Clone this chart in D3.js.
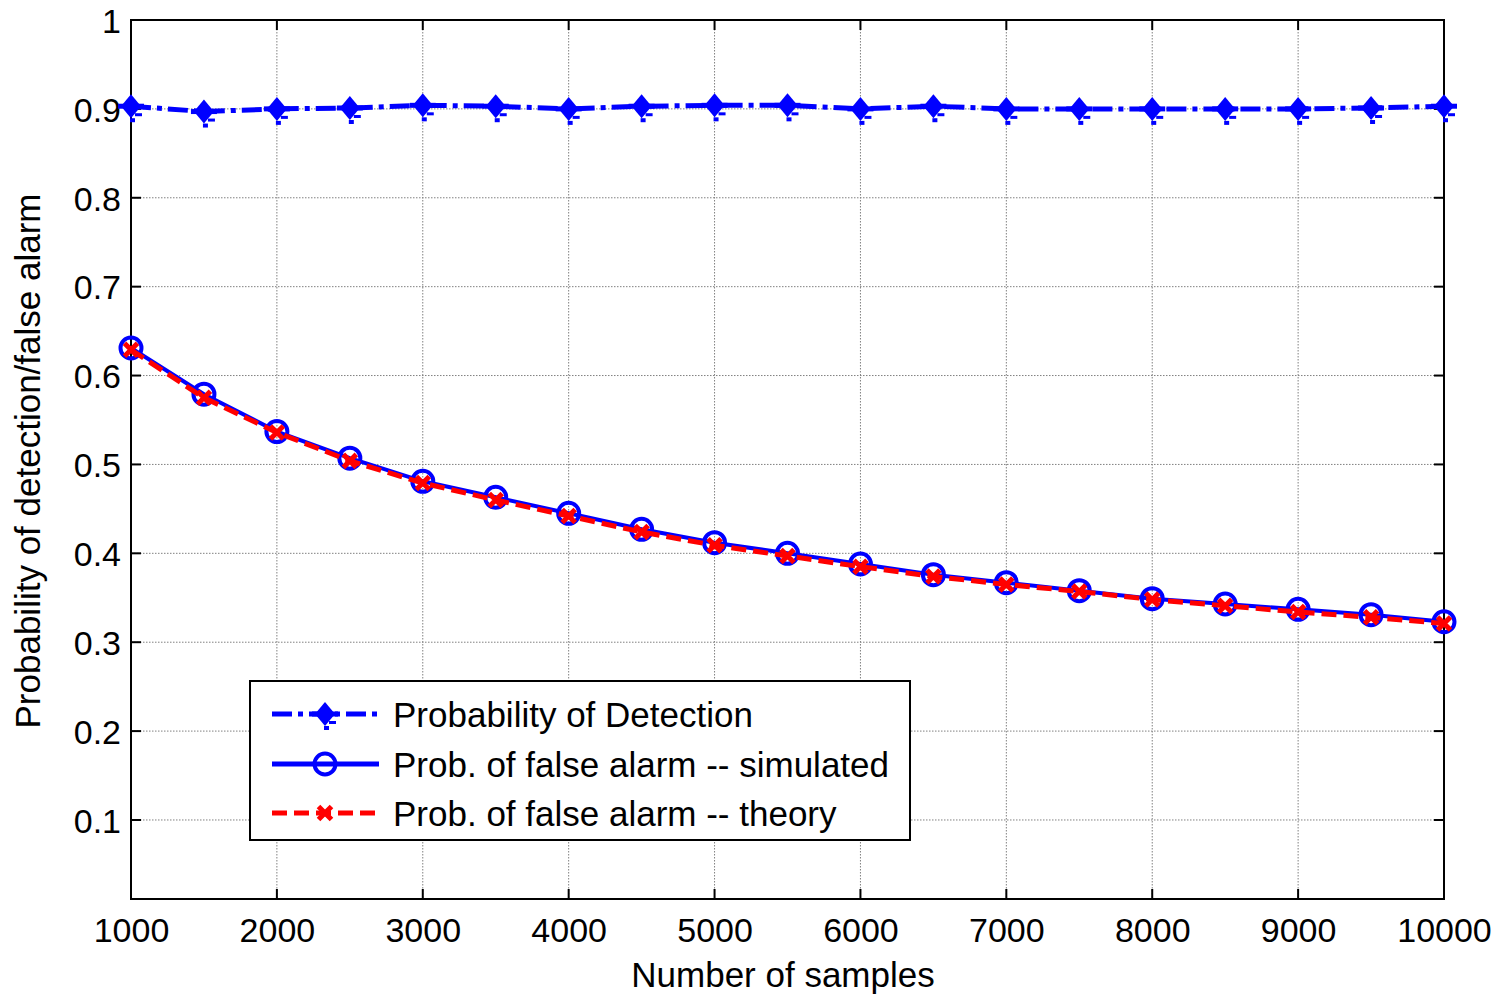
<!DOCTYPE html>
<html>
<head>
<meta charset="utf-8">
<script src="https://cdn.jsdelivr.net/npm/d3@7"></script>
<style>
  html, body { margin: 0; padding: 0; background: #fff; }
  svg { display: block; }
  text { font-family: Arial, "Liberation Sans", sans-serif; fill: #000; }
</style>
</head>
<body>
<script>
// ---------------- data ----------------
const samples = [1000,1500,2000,2500,3000,3500,4000,4500,5000,5500,6000,6500,7000,7500,8000,8500,9000,9500,10000];
const probDetection = [0.903,0.897,0.900,0.901,0.904,0.903,0.900,0.903,0.904,0.904,0.900,0.903,0.900,0.900,0.900,0.900,0.900,0.901,0.903];
const pfaSimulated = [0.631,0.579,0.537,0.507,0.481,0.463,0.445,0.427,0.412,0.400,0.388,0.376,0.367,0.358,0.349,0.343,0.337,0.331,0.323];
const pfaTheory    = [0.629,0.575,0.536,0.504,0.479,0.460,0.442,0.424,0.409,0.397,0.385,0.374,0.365,0.357,0.348,0.341,0.334,0.328,0.321];
const xTicks = [1000,2000,3000,4000,5000,6000,7000,8000,9000,10000];
const yTicks = [0.1,0.2,0.3,0.4,0.5,0.6,0.7,0.8,0.9,1];
const yTickLabels = ["0.1","0.2","0.3","0.4","0.5","0.6","0.7","0.8","0.9","1"];
const legendLabels = ["Probability of Detection","Prob. of false alarm -- simulated","Prob. of false alarm -- theory"];
const xLabel = "Number of samples";
const yLabel = "Probability of detection/false alarm";

// ---------------- layout ----------------
const W = 1499, H = 1002;
const L = 131, R = 1444, T = 20, B = 899;
const svg = d3.select("body").append("svg").attr("width", W).attr("height", H);

const x = d3.scaleLinear().domain([1000, 10000]).range([L, R]);
const y = d3.scaleLinear().domain([0.0111, 1]).range([B, T]);

// grid
const grid = svg.append("g");
grid.selectAll("line.gx").data(xTicks.slice(1, -1)).join("line")
  .attr("x1", d => x(d)).attr("x2", d => x(d)).attr("y1", T).attr("y2", B)
  .attr("stroke", "#808080").attr("stroke-width", 1).attr("stroke-dasharray", "1.5,1.5");
grid.selectAll("line.gy").data(yTicks.slice(0, -1)).join("line")
  .attr("x1", L).attr("x2", R).attr("y1", d => y(d)).attr("y2", d => y(d))
  .attr("stroke", "#808080").attr("stroke-width", 1).attr("stroke-dasharray", "1.5,1.5");

// axes (ticks inward)
const tickLen = 10;
const axB = d3.axisBottom(x).tickValues(xTicks).tickSize(0).tickPadding(20).tickFormat(d3.format("d"));
const axL = d3.axisLeft(y).tickValues(yTicks).tickSize(0).tickPadding(10).tickFormat((d, i) => yTickLabels[i]);
const gB = svg.append("g").attr("transform", `translate(0,${B})`).call(axB);
const gL = svg.append("g").attr("transform", `translate(${L},0)`).call(axL);
[gB, gL].forEach(g => { g.select(".domain").remove(); g.selectAll("text").attr("font-size", 34).attr("font-family", "Arial, 'Liberation Sans', sans-serif"); });
gB.selectAll("text").attr("dy", "0.68em");
gL.selectAll("text").attr("dy", "0.36em");

const ticks = svg.append("g").attr("stroke", "#000").attr("stroke-width", 2);
xTicks.forEach(v => {
  ticks.append("line").attr("x1", x(v)).attr("x2", x(v)).attr("y1", B).attr("y2", B - tickLen);
  ticks.append("line").attr("x1", x(v)).attr("x2", x(v)).attr("y1", T).attr("y2", T + tickLen);
});
yTicks.forEach(v => {
  ticks.append("line").attr("x1", L).attr("x2", L + tickLen).attr("y1", y(v)).attr("y2", y(v));
  ticks.append("line").attr("x1", R).attr("x2", R - tickLen).attr("y1", y(v)).attr("y2", y(v));
});

// frame
svg.append("rect").attr("x", L).attr("y", T).attr("width", R - L).attr("height", B - T)
  .attr("fill", "none").attr("stroke", "#000").attr("stroke-width", 2);

// axis labels
svg.append("text").attr("x", 783).attr("y", 987).attr("text-anchor", "middle")
  .attr("font-size", 35).text(xLabel);
svg.append("text").attr("transform", `translate(40,${461}) rotate(-90)`).attr("text-anchor", "middle")
  .attr("font-size", 35).text(yLabel);

// ---------------- series ----------------
const BLUE = "#0000ff", RED = "#ff0000";
const line = d3.line().x(d => x(d[0])).y(d => y(d[1]));
const pd = samples.map((s, i) => [s, probDetection[i]]);
const ps = samples.map((s, i) => [s, pfaSimulated[i]]);
const pt = samples.map((s, i) => [s, pfaTheory[i]]);

function pdMarker(g, cx, cy) {
  g.append("path").attr("d", `M${cx},${cy-12} L${cx+10},${cy} L${cx},${cy+12} L${cx-10},${cy} Z`).attr("fill", BLUE);
  g.append("rect").attr("x", cx - 13).attr("y", cy - 2.5).attr("width", 26).attr("height", 5).attr("fill", BLUE);
  g.append("rect").attr("x", cx + 4).attr("y", cy + 7).attr("width", 7).attr("height", 3).attr("fill", BLUE);
  g.append("rect").attr("x", cx - 1).attr("y", cy + 12).attr("width", 5).attr("height", 4).attr("fill", BLUE);
}
function circMarker(g, cx, cy) {
  g.append("circle").attr("cx", cx).attr("cy", cy).attr("r", 10.5).attr("fill", "none").attr("stroke", BLUE).attr("stroke-width", 4);
}
function xMarker(g, cx, cy) {
  const s = 6.5;
  g.append("path").attr("d", `M${cx-s},${cy-s}L${cx+s},${cy+s}M${cx-s},${cy+s}L${cx+s},${cy-s}`)
    .attr("stroke", RED).attr("stroke-width", 5).attr("fill", "none");
}

const plot = svg.append("g");
plot.append("path").datum(pd).attr("d", line).attr("fill", "none").attr("stroke", BLUE)
  .attr("stroke-width", 5).attr("stroke-dasharray", "20,6,5,6");
const gm1 = plot.append("g");
pd.forEach(d => pdMarker(gm1, x(d[0]), y(d[1])));

plot.append("path").datum(ps).attr("d", line).attr("fill", "none").attr("stroke", BLUE).attr("stroke-width", 4);
const gm2 = plot.append("g");
ps.forEach(d => circMarker(gm2, x(d[0]), y(d[1])));

plot.append("path").datum(pt).attr("d", line).attr("fill", "none").attr("stroke", RED)
  .attr("stroke-width", 5).attr("stroke-dasharray", "15,7");
const gm3 = plot.append("g");
pt.forEach(d => xMarker(gm3, x(d[0]), y(d[1])));

// ---------------- legend ----------------
const lg = svg.append("g");
lg.append("rect").attr("x", 250).attr("y", 681).attr("width", 660).attr("height", 159)
  .attr("fill", "#fff").attr("stroke", "#000").attr("stroke-width", 2);
const rowY = [714, 764, 813];
const styles = [
  { dash: "20,6,5,6", color: BLUE, w: 5, marker: pdMarker },
  { dash: null, color: BLUE, w: 5, marker: circMarker },
  { dash: "15,7", color: RED, w: 5, marker: xMarker }
];
styles.forEach((s, i) => {
  const ln = lg.append("line").attr("x1", 272).attr("x2", 379).attr("y1", rowY[i]).attr("y2", rowY[i])
    .attr("stroke", s.color).attr("stroke-width", s.w);
  if (s.dash) ln.attr("stroke-dasharray", s.dash);
  s.marker(lg, 325, rowY[i]);
  lg.append("text").attr("x", 393).attr("y", rowY[i]).attr("dy", "0.36em")
    .attr("font-size", 35).text(legendLabels[i]);
});
</script>
</body>
</html>
